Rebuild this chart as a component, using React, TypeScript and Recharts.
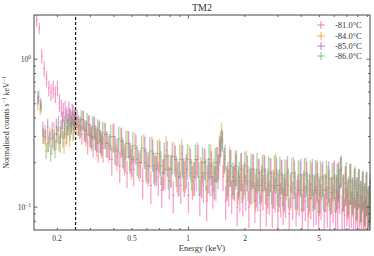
import React from "react";
import {
  ScatterChart,
  Scatter,
  XAxis,
  YAxis,
  ErrorBar,
  ReferenceLine,
} from "recharts";

// energy bin centres (keV) of each spectrum (grouping differs slightly per run)
const e81 = [
  0.155, 0.16, 0.165, 0.17, 0.175, 0.18, 0.185, 0.19, 0.195, 0.2,
  0.205, 0.21, 0.215, 0.22, 0.225, 0.23, 0.235, 0.24, 0.245, 0.25,
  0.26, 0.27, 0.28, 0.29, 0.3, 0.31, 0.32, 0.33, 0.34, 0.35,
  0.37, 0.39, 0.41, 0.43, 0.45, 0.47, 0.49, 0.51, 0.54, 0.57,
  0.6, 0.63, 0.66, 0.69, 0.72, 0.75, 0.79, 0.83, 0.87, 0.91,
  0.95, 1.0, 1.05, 1.1, 1.15, 1.2, 1.25, 1.3, 1.35, 1.4,
  1.45, 1.49, 1.53, 1.58, 1.64, 1.7, 1.76, 1.82, 1.88, 1.95,
  2.02, 2.1, 2.18, 2.26, 2.34, 2.42, 2.5, 2.6, 2.7, 2.8,
  2.9, 3.0, 3.1, 3.2, 3.3, 3.45, 3.6, 3.75, 3.9, 4.05,
  4.2, 4.35, 4.5, 4.65, 4.8, 4.95, 5.1, 5.3, 5.5, 5.7,
  5.9, 6.1, 6.25, 6.4, 6.6, 6.8, 7.0, 7.2, 7.4, 7.6,
  7.8, 8.0, 8.2, 8.4, 8.6, 8.8, 9.0, 9.2,
];
const e84 = [
  0.157, 0.162, 0.167, 0.172, 0.177, 0.182, 0.187, 0.192, 0.197, 0.202,
  0.207, 0.212, 0.217, 0.222, 0.227, 0.232, 0.237, 0.242, 0.247, 0.253,
  0.263, 0.273, 0.283, 0.293, 0.303, 0.313, 0.323, 0.333, 0.343, 0.355,
  0.375, 0.395, 0.415, 0.435, 0.455, 0.475, 0.495, 0.518, 0.548, 0.578,
  0.608, 0.638, 0.668, 0.698, 0.728, 0.76, 0.8, 0.84, 0.88, 0.92,
  0.962, 1.012, 1.062, 1.112, 1.162, 1.212, 1.262, 1.312, 1.362, 1.41,
  1.46, 1.5, 1.54, 1.595, 1.655, 1.715, 1.775, 1.835, 1.9, 1.97,
  2.04, 2.12, 2.2, 2.28, 2.36, 2.44, 2.525, 2.625, 2.725, 2.825,
  2.925, 3.025, 3.125, 3.225, 3.34, 3.49, 3.64, 3.79, 3.94, 4.09,
  4.24, 4.39, 4.54, 4.69, 4.84, 4.99, 5.15, 5.35, 5.55, 5.75,
  5.95, 6.14, 6.29, 6.45, 6.65, 6.85, 7.05, 7.25, 7.45, 7.65,
  7.85, 8.05, 8.25, 8.45, 8.65, 8.85, 9.05, 9.25,
];
const e85 = [
  0.1575, 0.1625, 0.1675, 0.1725, 0.1775, 0.1825, 0.1875, 0.1925, 0.1975, 0.2025,
  0.2075, 0.2125, 0.2175, 0.2225, 0.2275, 0.2325, 0.2375, 0.2425, 0.2475, 0.255,
  0.265, 0.275, 0.285, 0.295, 0.305, 0.315, 0.325, 0.335, 0.345, 0.36,
  0.38, 0.4, 0.42, 0.44, 0.46, 0.48, 0.5, 0.525, 0.555, 0.585,
  0.615, 0.645, 0.675, 0.705, 0.735, 0.77, 0.81, 0.85, 0.89, 0.93,
  0.975, 1.025, 1.075, 1.125, 1.175, 1.225, 1.275, 1.325, 1.375, 1.425,
  1.47, 1.51, 1.555, 1.61, 1.67, 1.73, 1.79, 1.85, 1.915, 1.985,
  2.06, 2.14, 2.22, 2.3, 2.38, 2.46, 2.55, 2.65, 2.75, 2.85,
  2.95, 3.05, 3.15, 3.25, 3.375, 3.525, 3.675, 3.825, 3.975, 4.125,
  4.275, 4.425, 4.575, 4.725, 4.875, 5.025, 5.2, 5.4, 5.6, 5.8,
  6.0, 6.175, 6.325, 6.5, 6.7, 6.9, 7.1, 7.3, 7.5, 7.7,
  7.9, 8.1, 8.3, 8.5, 8.7, 8.9, 9.1, 9.28,
];
const e86 = [
  0.159, 0.164, 0.169, 0.174, 0.179, 0.184, 0.189, 0.194, 0.199, 0.204,
  0.209, 0.214, 0.219, 0.224, 0.229, 0.234, 0.239, 0.244, 0.249, 0.258,
  0.268, 0.278, 0.288, 0.298, 0.308, 0.318, 0.328, 0.338, 0.348, 0.365,
  0.385, 0.405, 0.425, 0.445, 0.465, 0.485, 0.505, 0.533, 0.563, 0.593,
  0.623, 0.653, 0.683, 0.713, 0.743, 0.78, 0.82, 0.86, 0.9, 0.94,
  0.988, 1.038, 1.088, 1.138, 1.188, 1.238, 1.288, 1.338, 1.388, 1.438,
  1.48, 1.52, 1.57, 1.625, 1.685, 1.745, 1.805, 1.865, 1.93, 2.0,
  2.08, 2.16, 2.24, 2.32, 2.4, 2.48, 2.575, 2.675, 2.775, 2.875,
  2.975, 3.075, 3.175, 3.275, 3.41, 3.56, 3.71, 3.86, 4.01, 4.16,
  4.31, 4.46, 4.61, 4.76, 4.91, 5.06, 5.25, 5.45, 5.65, 5.85,
  6.05, 6.21, 6.36, 6.55, 6.75, 6.95, 7.15, 7.35, 7.55, 7.75,
  7.95, 8.15, 8.35, 8.55, 8.75, 8.95, 9.15, 9.29,
];

// relative 1-sigma error per bin
const relErr = [
  0.1, 0.09, 0.11, 0.12, 0.13, 0.12, 0.13, 0.14, 0.13, 0.12,
  0.14, 0.13, 0.15, 0.14, 0.13, 0.15, 0.14, 0.16, 0.15, 0.14,
  0.16, 0.15, 0.17, 0.16, 0.18, 0.17, 0.19, 0.17, 0.18, 0.2,
  0.2, 0.22, 0.21, 0.23, 0.22, 0.21, 0.24, 0.23, 0.22, 0.25,
  0.24, 0.25, 0.23, 0.26, 0.24, 0.27, 0.25, 0.24, 0.26, 0.25,
  0.27, 0.24, 0.26, 0.25, 0.28, 0.24, 0.27, 0.26, 0.25, 0.27,
  0.2, 0.16, 0.2, 0.26, 0.28, 0.25, 0.27, 0.26, 0.29, 0.25,
  0.27, 0.28, 0.26, 0.29, 0.25, 0.28, 0.27, 0.3, 0.26, 0.28,
  0.27, 0.29, 0.26, 0.28, 0.3, 0.27, 0.29, 0.26, 0.28, 0.3,
  0.27, 0.29, 0.28, 0.26, 0.3, 0.28, 0.27, 0.29, 0.31, 0.28,
  0.29, 0.27, 0.3, 0.24, 0.28, 0.3, 0.29, 0.31, 0.28, 0.3,
  0.32, 0.29, 0.31, 0.3, 0.32, 0.33, 0.31, 0.34,
];

const s81 = [
  1.84, 1.62, 1.05, 0.86, 0.74, 0.64, 0.6, 0.63, 0.58, 0.64,
  0.51, 0.47, 0.44, 0.46, 0.42, 0.45, 0.4, 0.43, 0.39, 0.41,
  0.36, 0.31, 0.33, 0.27, 0.31, 0.26, 0.3, 0.24, 0.28, 0.25,
  0.27, 0.21, 0.24, 0.19, 0.23, 0.17, 0.22, 0.18, 0.2, 0.15,
  0.19, 0.14, 0.18, 0.16, 0.13, 0.18, 0.15, 0.12, 0.17, 0.14,
  0.16, 0.12, 0.15, 0.17, 0.12, 0.14, 0.11, 0.16, 0.13, 0.15,
  0.19, 0.26, 0.16, 0.11, 0.14, 0.12, 0.15, 0.1, 0.13, 0.115,
  0.13, 0.1, 0.14, 0.11, 0.125, 0.095, 0.13, 0.105, 0.12, 0.1,
  0.125, 0.095, 0.115, 0.105, 0.12, 0.09, 0.115, 0.1, 0.12, 0.095,
  0.11, 0.09, 0.115, 0.1, 0.108, 0.088, 0.112, 0.095, 0.105, 0.09,
  0.11, 0.092, 0.1, 0.118, 0.095, 0.088, 0.105, 0.085, 0.1, 0.09,
  0.085, 0.098, 0.08, 0.092, 0.082, 0.088, 0.078, 0.075,
];
const s84 = [
  0.5, 0.46, 0.3, 0.32, 0.27, 0.31, 0.26, 0.33, 0.28, 0.31,
  0.27, 0.34, 0.27, 0.3, 0.35, 0.3, 0.37, 0.33, 0.41, 0.36,
  0.34, 0.39, 0.31, 0.36, 0.29, 0.34, 0.27, 0.32, 0.26, 0.31,
  0.25, 0.3, 0.22, 0.28, 0.21, 0.27, 0.2, 0.26, 0.19, 0.25,
  0.18, 0.24, 0.19, 0.23, 0.17, 0.24, 0.18, 0.22, 0.16, 0.23,
  0.17, 0.21, 0.16, 0.22, 0.17, 0.2, 0.15, 0.21, 0.17, 0.2,
  0.25, 0.32, 0.2, 0.15, 0.2, 0.15, 0.19, 0.14, 0.18, 0.15,
  0.19, 0.14, 0.18, 0.13, 0.17, 0.14, 0.18, 0.13, 0.17, 0.14,
  0.18, 0.13, 0.165, 0.125, 0.16, 0.13, 0.17, 0.12, 0.16, 0.13,
  0.17, 0.12, 0.155, 0.13, 0.16, 0.12, 0.155, 0.13, 0.145, 0.125,
  0.155, 0.125, 0.15, 0.175, 0.125, 0.145, 0.115, 0.15, 0.12, 0.14,
  0.115, 0.135, 0.11, 0.13, 0.105, 0.125, 0.1, 0.105,
];
const s85 = [
  0.55, 0.5, 0.34, 0.3, 0.35, 0.29, 0.33, 0.28, 0.35, 0.37,
  0.31, 0.39, 0.34, 0.4, 0.35, 0.41, 0.36, 0.42, 0.37, 0.4,
  0.35, 0.39, 0.33, 0.36, 0.3, 0.35, 0.29, 0.33, 0.27, 0.31,
  0.26, 0.3, 0.24, 0.28, 0.22, 0.27, 0.21, 0.25, 0.2, 0.24,
  0.19, 0.23, 0.18, 0.22, 0.17, 0.22, 0.18, 0.21, 0.16, 0.21,
  0.18, 0.2, 0.16, 0.21, 0.16, 0.2, 0.17, 0.19, 0.15, 0.2,
  0.24, 0.29, 0.21, 0.15, 0.19, 0.16, 0.18, 0.15, 0.18, 0.16,
  0.175, 0.145, 0.18, 0.14, 0.17, 0.15, 0.175, 0.14, 0.17, 0.135,
  0.17, 0.14, 0.165, 0.13, 0.17, 0.135, 0.16, 0.13, 0.165, 0.135,
  0.16, 0.13, 0.165, 0.13, 0.155, 0.125, 0.16, 0.13, 0.155, 0.125,
  0.16, 0.13, 0.155, 0.175, 0.13, 0.145, 0.12, 0.15, 0.125, 0.14,
  0.12, 0.14, 0.115, 0.135, 0.11, 0.13, 0.105, 0.115,
];
const s86 = [
  0.56, 0.48, 0.3, 0.24, 0.27, 0.23, 0.29, 0.25, 0.31, 0.27,
  0.34, 0.29, 0.36, 0.31, 0.38, 0.33, 0.39, 0.34, 0.4, 0.35,
  0.39, 0.33, 0.37, 0.3, 0.35, 0.29, 0.33, 0.28, 0.32, 0.27,
  0.3, 0.25, 0.29, 0.24, 0.27, 0.22, 0.26, 0.21, 0.25, 0.2,
  0.24, 0.19, 0.23, 0.19, 0.22, 0.18, 0.22, 0.18, 0.21, 0.17,
  0.21, 0.17, 0.21, 0.16, 0.2, 0.17, 0.21, 0.16, 0.2, 0.18,
  0.27, 0.28, 0.22, 0.16, 0.19, 0.15, 0.19, 0.16, 0.15, 0.19,
  0.15, 0.18, 0.145, 0.18, 0.14, 0.175, 0.145, 0.17, 0.14, 0.175,
  0.14, 0.17, 0.135, 0.165, 0.14, 0.17, 0.135, 0.165, 0.13, 0.165,
  0.135, 0.16, 0.13, 0.165, 0.13, 0.16, 0.13, 0.16, 0.135, 0.155,
  0.13, 0.155, 0.14, 0.18, 0.13, 0.155, 0.125, 0.15, 0.12, 0.145,
  0.12, 0.14, 0.115, 0.135, 0.11, 0.13, 0.105, 0.125,
];

const seriesNames = ["-81.0°C", "-84.0°C", "-85.0°C", "-86.0°C"];
const seriesColors = ["#f0479b", "#ff8a1c", "#a453c4", "#4fae4f"];
const seriesEnergies = [e81, e84, e85, e86];
const seriesValues = [s81, s84, s85, s86];

const xTicks = [0.2, 0.3, 0.4, 0.5, 0.6, 0.7, 0.8, 0.9, 1, 2, 3, 4, 5, 6, 7, 8, 9];
const xLabels = [0.2, 0.5, 1, 2, 5];
const yTicks = [0.08, 0.09, 0.1, 0.2, 0.3, 0.4, 0.5, 0.6, 0.7, 0.8, 0.9, 1];

const X_MIN = 0.15;
const X_MAX = 9.3;
const Y_MIN = 0.07;
const Y_MAX = 1.99;

const W = 374;
const H = 256;
const LEFT = 34;
const RIGHT = 370;
const TOP = 15;
const BOTTOM = 230;
const FONT = "'Liberation Serif', 'DejaVu Serif', serif";
const AXIS = "#444";

function buildRows(energies: number[], values: number[]) {
  return energies.map((e, i) => {
    const prev = i > 0 ? energies[i - 1] : e - (energies[1] - e);
    const next = i < energies.length - 1 ? energies[i + 1] : e + (e - energies[i - 1]);
    const y = values[i];
    const err = y * relErr[i];
    // keep the bars inside the axes box
    const lo = Math.min(err, y - Y_MIN * 1.001);
    const hi = Math.min(err, Y_MAX * 0.999 - y);
    const exLo = Math.min((e - prev) * 0.3, e - X_MIN * 1.001);
    const exHi = Math.min((next - e) * 0.3, X_MAX * 0.999 - e);
    return { e, y, ey: [lo, hi], ex: [exLo, exHi] };
  });
}

function XTick(props: any) {
  const { x, payload } = props;
  const v = payload.value;
  const len = v === 1 ? 3.5 : 2;
  return (
    <g>
      <line x1={x} x2={x} y1={BOTTOM} y2={BOTTOM - len} stroke={AXIS} strokeWidth={0.8} />
      <line x1={x} x2={x} y1={TOP} y2={TOP + len} stroke={AXIS} strokeWidth={0.8} />
      {xLabels.includes(v) && (
        <text x={Math.round(x)} y={BOTTOM + 11} textAnchor="middle" fontSize={7.5} fontFamily={FONT} fill="#333">
          {v}
        </text>
      )}
    </g>
  );
}

function YTick(props: any) {
  const { y, payload } = props;
  const v = payload.value;
  const major = v === 0.1 || v === 1;
  const len = major ? 3.5 : 2;
  return (
    <g>
      <line x1={LEFT} x2={LEFT + len} y1={y} y2={y} stroke={AXIS} strokeWidth={0.8} />
      <line x1={RIGHT} x2={RIGHT - len} y1={y} y2={y} stroke={AXIS} strokeWidth={0.8} />
      {major && (
        <text x={LEFT - 3} y={y + 3} textAnchor="end" fontSize={7.5} fontFamily={FONT} fill="#333">
          10
          <tspan dy={-3.5} fontSize={5.5}>
            {v === 1 ? "0" : "\u22121"}
          </tspan>
        </text>
      )}
    </g>
  );
}

export default function App() {
  return (
    <div style={{ position: "absolute", left: 0, top: 0, width: W, height: H, background: "#fff" }}>
      <ScatterChart
        width={W}
        height={H}
        margin={{ top: TOP, right: W - RIGHT, bottom: H - BOTTOM - 1, left: LEFT - 1 }}
      >
        <XAxis
          type="number"
          dataKey="e"
          scale="log"
          domain={[X_MIN, X_MAX]}
          allowDataOverflow
          ticks={xTicks}
          interval={0}
          tick={XTick}
          tickLine={false}
          axisLine={false}
          height={1}
        />
        <YAxis
          type="number"
          dataKey="y"
          scale="log"
          domain={[Y_MIN, Y_MAX]}
          allowDataOverflow
          ticks={yTicks}
          interval={0}
          tick={YTick}
          tickLine={false}
          axisLine={false}
          width={1}
        />
        {seriesValues.map((vals, k) => (
          <Scatter
            key={seriesNames[k]}
            name={seriesNames[k]}
            data={buildRows(seriesEnergies[k], vals)}
            isAnimationActive={false}
            shape={() => <g />}
          >
            <ErrorBar dataKey="ey" direction="y" width={0} stroke={seriesColors[k]} strokeWidth={1.3} strokeOpacity={0.5} />
            <ErrorBar dataKey="ex" direction="x" width={0} stroke={seriesColors[k]} strokeWidth={1.1} strokeOpacity={0.5} />
          </Scatter>
        ))}
        <ReferenceLine x={0.25} stroke="#111" strokeWidth={1.2} strokeDasharray="3 2" />
      </ScatterChart>

      <svg style={{ position: "absolute", left: 0, top: 0, pointerEvents: "none" }} width={W} height={H}>
        <rect x={LEFT} y={TOP} width={RIGHT - LEFT} height={BOTTOM - TOP} fill="none" stroke={AXIS} strokeWidth={1} />
        <text
          transform={`translate(9, ${(TOP + BOTTOM) / 2}) rotate(-90)`}
          textAnchor="middle"
          fontFamily={FONT}
          fontSize={8}
          fill="#333"
        >
          Normalised counts s<tspan dy={-3} fontSize={5.5}>{"\u22121"}</tspan>
          <tspan dy={3}> keV</tspan>
          <tspan dy={-3} fontSize={5.5}>{"\u22121"}</tspan>
        </text>
        <text x={(LEFT + RIGHT) / 2} y={11} textAnchor="middle" fontFamily={FONT} fontSize={10} fill="#333">
          TM2
        </text>
        <text x={(LEFT + RIGHT) / 2} y={251} textAnchor="middle" fontFamily={FONT} fontSize={8.5} fill="#333">
          Energy (keV)
        </text>
      </svg>

      <div style={{ position: "absolute", left: 315, top: 20 }}>
        {seriesNames.map((name, k) => (
          <div key={name} style={{ display: "flex", alignItems: "center", height: 10.4 }}>
            <svg width={12} height={10}>
              <line x1={2} x2={10} y1={5} y2={5} stroke={seriesColors[k]} strokeOpacity={0.6} strokeWidth={1.2} />
              <line x1={6} x2={6} y1={1} y2={9} stroke={seriesColors[k]} strokeOpacity={0.6} strokeWidth={1.2} />
            </svg>
            <span style={{ marginLeft: 8, fontFamily: FONT, fontSize: 8.5, color: "#333", whiteSpace: "nowrap" }}>
              {name}
            </span>
          </div>
        ))}
      </div>
    </div>
  );
}
